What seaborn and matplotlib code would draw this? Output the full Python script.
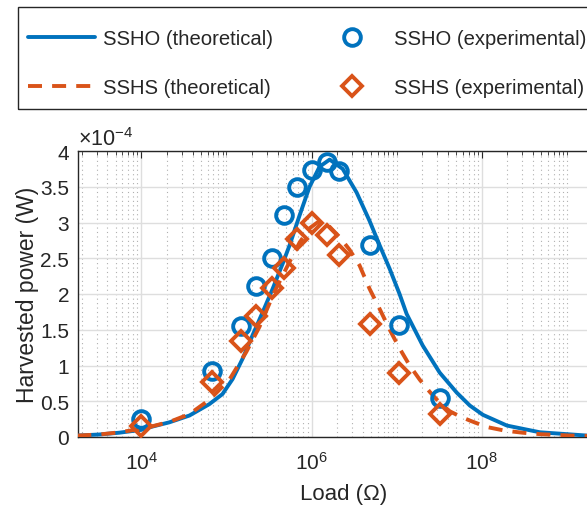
import numpy as np
import pandas as pd

import matplotlib
matplotlib.use("Agg")
import matplotlib.pyplot as plt
from matplotlib.patches import Rectangle
from matplotlib.ticker import FixedLocator, LogLocator, FuncFormatter, MultipleLocator, NullFormatter
import seaborn as sns

# Theoretical curves (power in units of 1e-4 W).
load_theory_ssho = [1.77e3, 3.2e3, 5.5e3, 1.0e4, 1.24e4, 2.13e4, 3.67e4, 6.3e4,
                    8.97e4, 1.18e5, 1.54e5, 2.02e5, 2.65e5, 3.48e5, 4.56e5, 5.51e5,
                    7.23e5, 9.47e5, 1.24e6, 1.63e6, 2.32e6, 3.38e6, 4.81e6, 6.31e6,
                    8.28e6, 1.08e7, 1.31e7, 2.02e7, 3.2e7, 5.08e7, 7.23e7, 1.03e8,
                    1.97e8, 4.81e8, 1.72e9, 3.2e9]
power_theory_ssho = [0.02, 0.035, 0.06, 0.10, 0.135, 0.205, 0.30, 0.46,
                     0.60, 0.81, 1.09, 1.42, 1.74, 2.07, 2.42, 2.68,
                     3.10, 3.50, 3.78, 3.88, 3.75, 3.42, 3.02, 2.68,
                     2.35, 2.00, 1.72, 1.28, 0.90, 0.62, 0.44, 0.31,
                     0.16, 0.066, 0.02, 0.012]

load_theory_sshs = [1.77e3, 3.2e3, 5.5e3, 1.0e4, 1.24e4, 2.13e4, 3.67e4, 6.3e4,
                    1.08e5, 1.71e5, 2.44e5, 3.66e5, 5.51e5, 7.23e5, 9.47e5, 1.17e6,
                    1.54e6, 2.12e6, 2.79e6, 3.66e6, 4.81e6, 6.31e6, 8.28e6, 1.08e7,
                    1.42e7, 1.87e7, 2.45e7, 3.2e7, 4.2e7, 5.5e7, 7.23e7, 1.14e8,
                    1.84e8, 3.0e8, 4.81e8, 1.09e9, 3.2e9]
power_theory_sshs = [0.02, 0.035, 0.065, 0.115, 0.14, 0.21, 0.32, 0.52,
                     0.80, 1.19, 1.54, 2.03, 2.45, 2.72, 2.92, 3.00,
                     2.97, 2.80, 2.62, 2.40, 2.07, 1.79, 1.50, 1.24,
                     1.00, 0.80, 0.63, 0.48, 0.36, 0.29, 0.23, 0.14,
                     0.09, 0.06, 0.04, 0.02, 0.01]

# Experimental points (power in units of 1e-4 W).
load_exp = [1.0e4, 6.8e4, 1.5e5, 2.2e5, 3.4e5, 4.7e5, 6.8e5, 1.0e6, 1.5e6,
            2.1e6, 4.8e6, 1.05e7, 3.2e7]
power_exp_ssho = [0.25, 0.93, 1.55, 2.11, 2.51, 3.11, 3.50, 3.73, 3.84,
                  3.72, 2.69, 1.56, 0.54]
power_exp_sshs = [0.16, 0.77, 1.34, 1.69, 2.08, 2.37, 2.77, 3.00, 2.82,
                  2.54, 1.58, 0.89, 0.32]

labels = ["SSHO (theoretical)", "SSHS (theoretical)",
          "SSHO (experimental)", "SSHS (experimental)"]
x_ticks = [1e4, 1e6, 1e8]

blue = "#0072BD"
orange = "#D95319"
ink = "#262626"

sns.set_theme(style="white")
plt.rcParams["font.family"] = ["Liberation Sans", "DejaVu Sans"]
plt.rcParams["mathtext.fontset"] = "custom"
plt.rcParams["mathtext.rm"] = "Liberation Sans"
plt.rcParams["mathtext.it"] = "Liberation Sans:italic"

W, H = 587, 506
fig = plt.figure(figsize=(W / 100, H / 100), dpi=100)
ax = fig.add_axes([77.5 / W, (H - 438) / H, (609.5 - 77.5) / W, (438 - 152) / H])

th_ssho = pd.DataFrame({"load": load_theory_ssho, "power": power_theory_ssho})
th_sshs = pd.DataFrame({"load": load_theory_sshs, "power": power_theory_sshs})
exp = pd.DataFrame({"load": load_exp, "ssho": power_exp_ssho, "sshs": power_exp_sshs})

sns.lineplot(data=th_ssho, x="load", y="power", ax=ax, color=blue, lw=2.8,
             label=labels[0], legend=False, zorder=3)
sns.lineplot(data=th_sshs, x="load", y="power", ax=ax, color=orange, lw=2.8,
             linestyle=(0, (3.6, 2.6)), label=labels[1], legend=False, zorder=4)
ax.plot(exp["load"], exp["ssho"], ls="none", marker="o", ms=12, mew=2.8,
        mfc="none", mec=blue, label=labels[2], zorder=5)
ax.plot(exp["load"], exp["sshs"], ls="none", marker="D", ms=10.5, mew=2.8,
        mfc="none", mec=orange, label=labels[3], zorder=6)

ax.set_xscale("log")
ax.set_xlim(10 ** 3.25, 10 ** 9.5)
ax.set_ylim(0, 4)
ax.xaxis.set_major_locator(FixedLocator(x_ticks))
ax.xaxis.set_minor_locator(LogLocator(base=10, subs=np.arange(1, 10), numticks=20))
ax.xaxis.set_minor_formatter(NullFormatter())
ax.yaxis.set_major_locator(MultipleLocator(0.5))
ax.yaxis.set_major_formatter(FuncFormatter(lambda v, p: "%g" % v))

ax.grid(True, which="major", color="#dedede", lw=1.0)
ax.grid(True, which="minor", axis="x", color="#b0b0b0", lw=0.8, ls=(0, (1, 3)))
ax.set_axisbelow(True)

for s in ax.spines.values():
    s.set_color(ink)
    s.set_linewidth(1.0)
ax.tick_params(which="both", direction="in", top=True, right=True,
               colors=ink, labelsize=15)
ax.tick_params(which="major", length=5, width=0.8)
ax.tick_params(which="minor", length=3, width=0.6)
ax.tick_params(axis="x", which="major", pad=10)
ax.tick_params(axis="y", which="major", pad=6)

ax.set_xlabel("Load (Ω)", fontsize=16, color=ink, labelpad=7)
ax.set_ylabel("Harvested power (W)", fontsize=16.5, color=ink, labelpad=1)
ax.text(0.0, 1.004, r"$\times10^{-4}$", transform=ax.transAxes, fontsize=15.5,
        color=ink, ha="left", va="bottom")

# Legend box: open on the right, as in the cropped original.
fig.patches.append(Rectangle((18 / W, 1 - 110 / H), 600 / W, 102 / H,
                             transform=fig.transFigure, fill=False,
                             edgecolor=ink, lw=1.0))
handles, _ = ax.get_legend_handles_labels()
leg = fig.legend(handles, labels, ncol=2, loc="upper left",
                 bbox_to_anchor=(9 / W, 1 - 11 / H), fontsize=14.6,
                 frameon=False, handlelength=3.3, handletextpad=0.4,
                 columnspacing=2.24, labelspacing=1.45, borderpad=0.95,
                 borderaxespad=0)

fig.savefig("out.png", dpi=100)
